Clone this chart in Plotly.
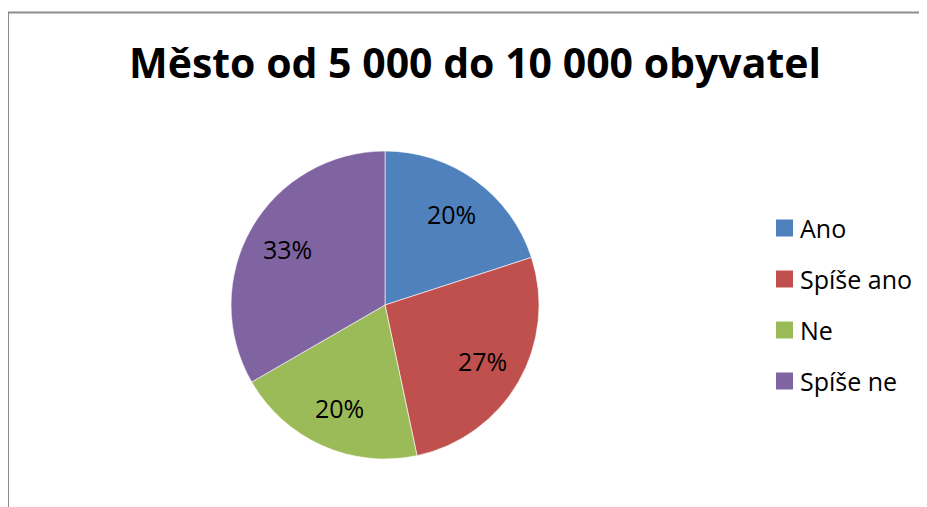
import math
import plotly.graph_objects as go

title_text = "Město od 5 000 do 10 000 obyvatel"
labels = ["Ano", "Spíše ano", "Ne", "Spíše ne"]
counts = [3, 4, 3, 5]
colors = ["#4F81BD", "#C0504D", "#9BBB59", "#8064A2"]

OFF = 8  # page body offset in the viewer
W, H = 927 - OFF, 507 - OFF
cx, cy, r = 385 - OFF, 305 - OFF, 154  # pie centre / radius in px (from top)

fig = go.Figure()
fig.add_trace(go.Pie(
    labels=labels,
    values=counts,
    sort=False,
    direction="clockwise",
    rotation=0,
    marker=dict(colors=colors, line=dict(color="rgba(255,255,255,0.6)", width=1)),
    textinfo="none",
    showlegend=False,
    hoverinfo="label+percent",
    domain=dict(x=[(cx - r) / W, (cx + r) / W],
                y=[(H - cy - r) / H, (H - cy + r) / H]),
))

# data labels placed along each slice's bisector (Excel "best fit" look)
total = sum(counts)
cum = 0
for c in counts:
    mid = (cum + c / 2) / total * 2 * math.pi  # clockwise from 12 o'clock
    cum += c
    lx = cx + 0.73 * r * math.sin(mid)
    ly = cy - 0.73 * r * math.cos(mid)
    fig.add_annotation(xref="paper", yref="paper", x=lx / W, y=1 - ly / H,
                       xanchor="center", yanchor="middle", showarrow=False,
                       text=f"{round(100 * c / total)}%",
                       font=dict(family="Open Sans", size=25, color="black"))

# frame (Excel chart border, partly cropped)
bx, by = 7.5 - OFF + 0.5, 12.5 - OFF
fig.add_shape(type="line", xref="paper", yref="paper",
              x0=bx / W, x1=bx / W, y0=0, y1=1 - by / H,
              line=dict(color="#8c8c8c", width=2))
fig.add_shape(type="line", xref="paper", yref="paper",
              x0=bx / W, x1=1.02, y0=1 - by / H, y1=1 - by / H,
              line=dict(color="#8c8c8c", width=2))

# legend
leg_x, leg_y0, leg_dy, sq = 776 - OFF, 228 - OFF, 51, 17
for i, (lab, col) in enumerate(zip(labels, colors)):
    yc = leg_y0 + i * leg_dy
    fig.add_shape(type="rect", xref="paper", yref="paper",
                  x0=leg_x / W, x1=(leg_x + sq) / W,
                  y0=1 - (yc + sq / 2) / H, y1=1 - (yc - sq / 2) / H,
                  fillcolor=col, line=dict(width=0))
    fig.add_annotation(xref="paper", yref="paper",
                       x=(leg_x + sq + 5) / W, y=1 - yc / H,
                       xanchor="left", yanchor="middle", showarrow=False,
                       text=lab, font=dict(family="Open Sans", size=25, color="black"))

fig.update_layout(
    width=W, height=H,
    margin=dict(l=0, r=0, t=0, b=0),
    paper_bgcolor="white",
    plot_bgcolor="white",
    title=dict(text=title_text, x=(475 - OFF) / W, xanchor="center",
               y=1 - (64 - OFF) / H, yanchor="middle",
               font=dict(family="Open Sans", size=41, color="black", weight="bold")),
)

fig.write_html("out.html")
